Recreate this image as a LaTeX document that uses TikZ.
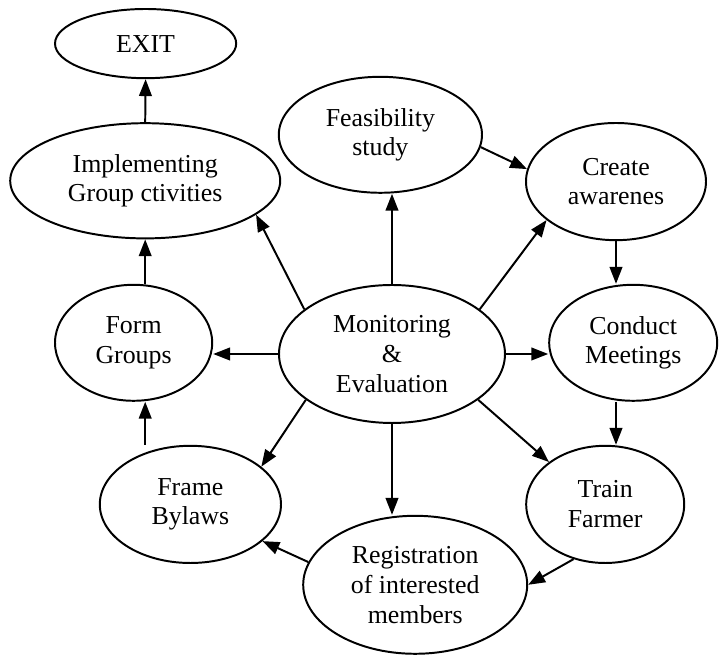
\documentclass[tikz,border=0pt]{standalone}
\usepackage{fontspec}
\setmainfont{Liberation Serif}
\usetikzlibrary{shapes.geometric,arrows.meta}

\begin{document}
\begin{tikzpicture}[
    etapa/.style={draw, ellipse, line width=1.4pt, inner sep=0pt, align=center,
        font=\fontsize{18.4}{21.2}\selectfont},
    flecha/.style={line width=1.4pt, -{Triangle[length=12pt,width=9pt]}}
  ]
    \useasboundingbox (0,0) rectangle (18,16.4);

    % Etapas
    \node[etapa, minimum width=4.53cm, minimum height=1.73cm] (exit) at (3.64,15.31) {EXIT};
    \node[etapa, minimum width=6.75cm, minimum height=2.88cm] (implementing) at (3.63,11.88) {Implementing\\Group ctivities};
    \node[etapa, minimum width=5.08cm, minimum height=2.9cm] (feasibility) at (9.51,13.03) {Feasibility\\study};
    \node[etapa, minimum width=4.5cm, minimum height=2.93cm] (awareness) at (15.4,11.86) {Create\\awarenes};
    \node[etapa, minimum width=3.93cm, minimum height=2.9cm] (form) at (3.34,7.83) {Form\\Groups};
    \node[etapa, minimum width=5.65cm, minimum height=3.45cm] (monitoring) at (9.8,7.55) {Monitoring\\\&\\Evaluation};
    \node[etapa, minimum width=4.2cm, minimum height=2.9cm] (meetings) at (15.83,7.83) {Conduct\\Meetings};
    \node[etapa, minimum width=4.53cm, minimum height=2.93cm] (bylaws) at (4.76,3.79) {Frame\\Bylaws};
    \node[etapa, minimum width=3.95cm, minimum height=2.93cm] (train) at (15.13,3.79) {Train\\Farmer};
    \node[etapa, minimum width=5.6cm, minimum height=3.45cm] (registration) at (10.38,1.78) {Registration\\of interested\\members};

    % Flujo exterior
    \draw[flecha] (implementing.north) -- (exit.south);
    \draw[flecha] (form.north -| implementing.south) -- (implementing.south);
    \draw[flecha] (bylaws.north -| implementing.south) -- (form.south -| implementing.south);
    \draw[flecha] (feasibility.-7) -- (awareness.172);
    \draw[flecha] (awareness.south) -- (awareness.south |- meetings.north);
    \draw[flecha] (awareness.south |- meetings.south) -- (awareness.south |- train.north);
    \draw[flecha] (train.240) -- (registration.east);
    \draw[flecha] (registration.168) -- (bylaws.333);

    % Flechas desde el centro
    \draw[flecha] (monitoring.north) -- (monitoring.north |- feasibility.south);
    \draw[flecha] (monitoring.27) -- (awareness.209);
    \draw[flecha] (monitoring.east) -- (monitoring.east -| meetings.west);
    \draw[flecha] (monitoring.-28) -- (train.143);
    \draw[flecha] (monitoring.south) -- (monitoring.south |- registration.north);
    \draw[flecha] (monitoring.208) -- (bylaws.28);
    \draw[flecha] (monitoring.west) -- (monitoring.west -| form.east);
    \draw[flecha] (monitoring.153) -- (implementing.343);
\end{tikzpicture}
\end{document}
